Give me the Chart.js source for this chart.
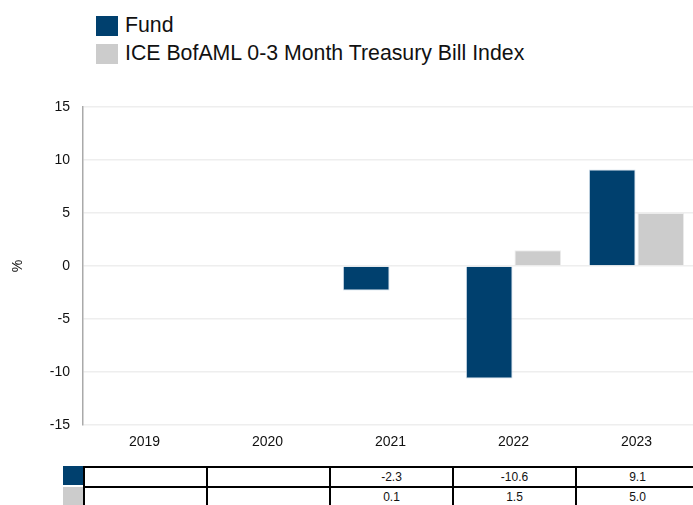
<!DOCTYPE html>
<html>
<head>
<meta charset="utf-8">
<script src="https://cdn.jsdelivr.net/npm/chart.js@4.4.1/dist/chart.umd.min.js"></script>
<style>
  html, body { margin: 0; padding: 0; background: #fff; }
  body { width: 693px; height: 505px; position: relative; overflow: hidden;
         font-family: "Liberation Sans", Arial, sans-serif; }
  #wrap { position: absolute; left: 0; top: 0; width: 698px; height: 452px; }
  .leg { position: absolute; left: 96px; display: flex; align-items: center;
         font-size: 21.3px; color: #111; white-space: nowrap; }
  .leg span.sw { display: inline-block; width: 22px; height: 20px; margin-right: 7px; }
  .cell { position: absolute; box-sizing: border-box; font-size: 12px; color: #111;
          text-align: center; display: flex; align-items: center; justify-content: center; }
</style>
</head>
<body>
<div id="legend"></div>
<div id="wrap"><canvas id="c"></canvas></div>
<div id="table"></div>
<script>
// Calendar-year returns (%)
const years = ['2019', '2020', '2021', '2022', '2023'];
const fundReturns = [null, null, -2.3, -10.6, 9.1];
const benchReturns = [null, null, 0.1, 1.5, 5.0];
const seriesNames = ['Fund', 'ICE BofAML 0-3 Month Treasury Bill Index'];
const seriesColors = ['#00406E', '#CCCCCC'];
const yTicks = [-15, -10, -5, 0, 5, 10, 15];

// Legend
const legend = document.getElementById('legend');
seriesNames.forEach((name, i) => {
  const d = document.createElement('div');
  d.className = 'leg';
  d.style.top = (13 + i * 28) + 'px';
  d.innerHTML = '<span class="sw" style="background:' + seriesColors[i] + '"></span>';
  d.appendChild(document.createTextNode(name));
  legend.appendChild(d);
});

const chart = new Chart(document.getElementById('c'), {
  type: 'bar',
  data: {
    labels: years,
    datasets: [
      { label: seriesNames[0], data: fundReturns, backgroundColor: seriesColors[0],
        borderColor: 'rgba(200,215,230,0.9)', borderWidth: 1,
        barPercentage: 0.96, categoryPercentage: 0.79 },
      { label: seriesNames[1], data: benchReturns, backgroundColor: seriesColors[1],
        borderColor: 'rgba(235,235,235,0.9)', borderWidth: 1,
        barPercentage: 0.96, categoryPercentage: 0.79 }
    ]
  },
  options: {
    responsive: true,
    maintainAspectRatio: false,
    animation: false,
    layout: { padding: { top: 107, right: 0, bottom: 0, left: 10 } },
    plugins: { legend: { display: false }, tooltip: { enabled: false } },
    scales: {
      x: {
        grid: { display: false },
        border: { display: false },
        ticks: { color: '#111', font: { family: 'Liberation Sans', size: 14 }, padding: 1 }
      },
      y: {
        min: -15, max: 15,
        afterBuildTicks: s => { s.ticks = yTicks.map(v => ({ value: v })); },
        afterFit: s => { s.width = 73; },
        grid: { color: '#EEEEEE', lineWidth: 1.5, drawTicks: false },
        border: { color: '#AAAAAA', width: 1.5 },
        ticks: { color: '#111', font: { family: 'Liberation Sans', size: 14 }, padding: 13 },
        title: { display: true, text: '%', color: '#111',
                 font: { family: 'Liberation Sans', size: 14 }, padding: 0 }
      }
    }
  }
});

// Data table under the chart, columns aligned to the category scale
(function buildTable() {
  const xs = chart.scales.x;
  const half = (xs.getPixelForTick(1) - xs.getPixelForTick(0)) / 2;
  const table = document.getElementById('table');
  const rows = [fundReturns, benchReturns];
  const top0 = 466, rowH = 20;
  rows.forEach((vals, r) => {
    const y = top0 + r * rowH;
    const sw = document.createElement('div');
    sw.className = 'cell';
    sw.style.cssText += 'left:63px;top:' + (y + (r ? 1 : 0)) + 'px;width:20px;height:' + (rowH - 1) + 'px;background:' + seriesColors[r];
    table.appendChild(sw);
    vals.forEach((v, i) => {
      const c = xs.getPixelForTick(i);
      const d = document.createElement('div');
      d.className = 'cell';
      const left = Math.round(c - half);
      const right = Math.round(c + half);
      d.style.left = left + 'px';
      d.style.top = y + 'px';
      d.style.width = (right - left + 2) + 'px';
      d.style.height = (rowH + 2) + 'px';
      d.style.border = '2px solid #000';
      d.textContent = v === null ? '' : v.toFixed(1);
      table.appendChild(d);
    });
  });
})();
</script>
</body>
</html>
